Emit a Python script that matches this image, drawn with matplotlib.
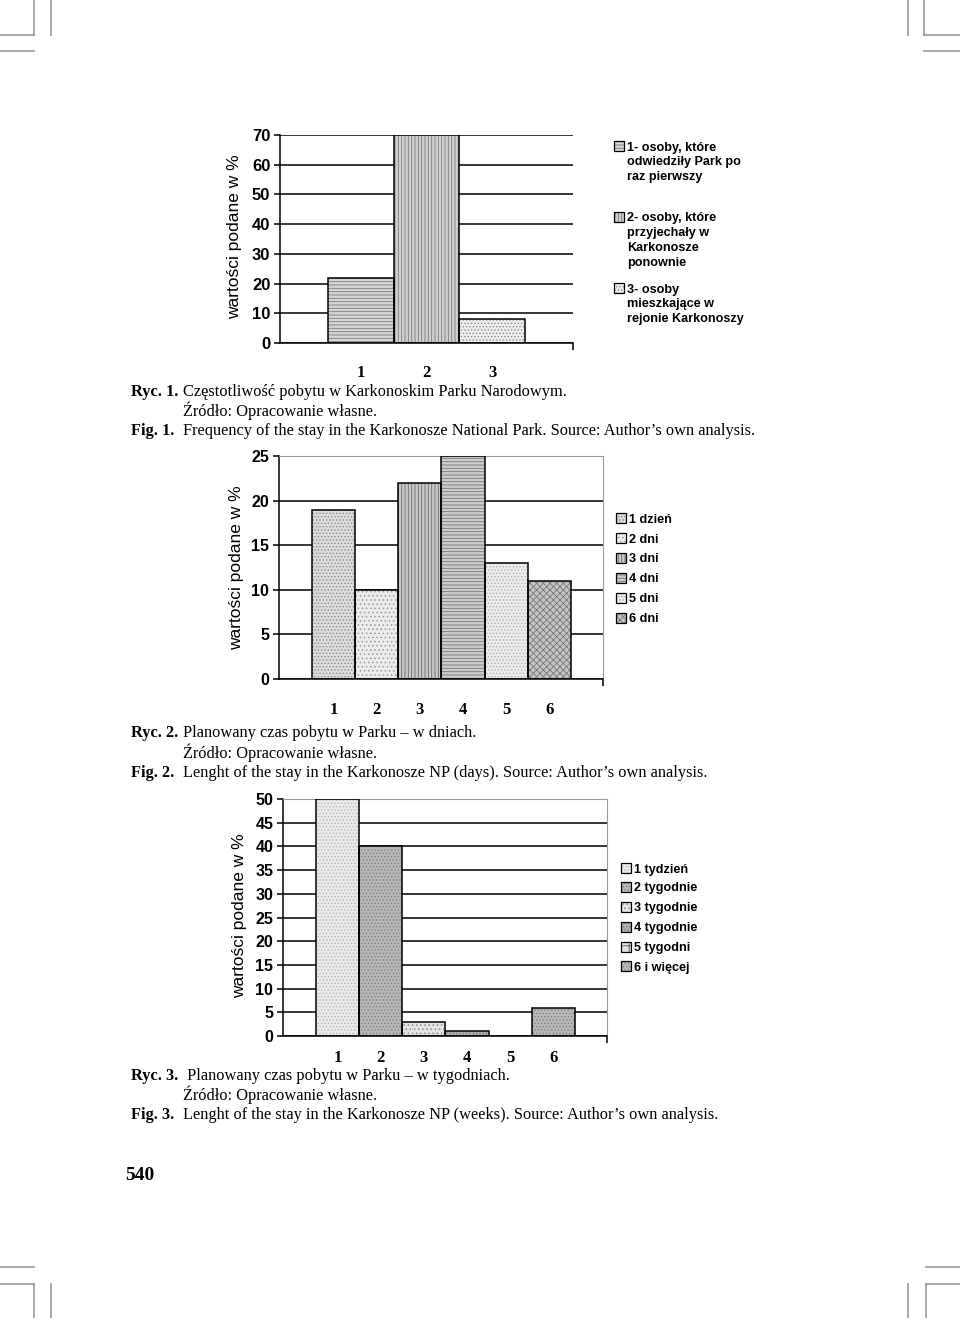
import numpy as np
import matplotlib
matplotlib.use('Agg')
import matplotlib.pyplot as plt
from matplotlib.patches import Rectangle
from matplotlib.lines import Line2D
from matplotlib.transforms import blended_transform_factory

# data
cat1 = ['1', '2', '3']
val1 = [22, 70, 8]
leg1 = ['1- osoby, które\nodwiedziły Park po\nraz pierwszy',
        '2- osoby, które\nprzyjechały w\nKarkonosze\nponownie',
        '3- osoby\nmieszkające w\nrejonie Karkonoszy']

cat2 = ['1', '2', '3', '4', '5', '6']
val2 = [19, 10, 22, 25, 13, 11]
leg2 = ['1 dzień', '2 dni', '3 dni', '4 dni', '5 dni', '6 dni']

cat3 = ['1', '2', '3', '4', '5', '6']
val3 = [50, 40, 3, 1, 0, 6]
leg3 = ['1 tydzień', '2 tygodnie', '3 tygodnie', '4 tygodnie', '5 tygodni', '6 i więcej']

W, H = 960, 1318
plt.rcParams['hatch.linewidth'] = 0.6
fig = plt.figure(figsize=(W / 100, H / 100), dpi=100)

def fx(x):
    return x / W

def fy(y):
    return 1 - y / H

SANS = 'Liberation Sans'
SERIF = 'Liberation Serif'

# fill styles (face, hatch colour, hatch)
sty1 = [('#d6d6d6', '#7a7a7a', '-----'), ('#d0d0d0', '#7a7a7a', '|||||'), ('#eeeeee', '#8a8a8a', '.....')]
sty2 = [('#dcdcdc', '#8a8a8a', '.....'), ('#ececec', '#9a9a9a', '....'), ('#c8c8c8', '#6a6a6a', '|||||'),
        ('#cccccc', '#777777', '-----'), ('#ececec', '#b0b0b0', '.....'), ('#c4c4c4', '#777777', 'xxxxx')]
sty3 = [('#ebebeb', '#b5b5b5', '.....'), ('#b8b8b8', '#808080', '.....'), ('#e4e4e4', '#8a8a8a', '....'),
        ('#b0b0b0', '#777777', '.....'), ('#e0e0e0', '#555555', '++'), ('#b8b8b8', '#808080', '.....')]


def draw_chart(rect, cats, vals, styles, ymax, ystep, framed, xlab_y, tick_fs):
    ax = fig.add_axes(rect)
    x = np.arange(len(cats))
    for xi, v, (fc, hc, h) in zip(x, vals, styles):
        if v <= 0:
            continue
        ax.bar(xi, v, width=1.0, color=fc, edgecolor=hc, hatch=h, linewidth=0, zorder=2)
        ax.bar(xi, v, width=1.0, fill=False, edgecolor='black', linewidth=1.1, zorder=3)
    ax.set_ylim(0, ymax)
    ax.set_yticks(np.arange(0, ymax + 0.1, ystep))
    ax.yaxis.grid(True, color='black', linewidth=1.1, zorder=0)
    ax.set_axisbelow(True)
    ax.tick_params(axis='x', labelbottom=False, length=5, width=1.1, direction='out')
    ax.tick_params(axis='y', length=4, width=1.1, pad=3, labelsize=tick_fs)
    for lbl in ax.get_yticklabels():
        lbl.set_fontfamily(SANS)
        lbl.set_fontweight('bold')
    ax.spines['left'].set_linewidth(1.1)
    ax.spines['bottom'].set_linewidth(1.1)
    if framed:
        ax.spines['top'].set_color('#9a9a9a')
        ax.spines['right'].set_color('#9a9a9a')
    else:
        ax.spines['top'].set_visible(False)
        ax.spines['right'].set_visible(False)
    tr = blended_transform_factory(ax.transData, fig.transFigure)
    for xi, c in zip(x, cats):
        ax.text(xi, fy(xlab_y), c, transform=tr, ha='center', va='center',
                fontsize=12, fontweight='bold', family=SERIF)
    return ax


ax1 = draw_chart([fx(280), fy(343), fx(573 - 280), (343 - 135) / H], cat1, val1, sty1, 70, 10, False, 373, 12)
ax1.set_xlim(-1.23, 3.23)
ax1.set_xticks([3.23])
ax2 = draw_chart([fx(279), fy(679), fx(603 - 279), (679 - 456) / H], cat2, val2, sty2, 25, 5, True, 710, 11.5)
ax2.set_xlim(-1.26, 6.24)
ax2.set_xticks([6.24])
ax3 = draw_chart([fx(283), fy(1036), fx(607 - 283), (1036 - 799) / H], cat3, val3, sty3, 50, 5, True, 1058, 11.5)
ax3.set_xlim(-1.26, 6.24)
ax3.set_xticks([6.24])

# y labels
for xx, yy in [(235, 237), (237, 568), (240, 916)]:
    fig.text(fx(xx), fy(yy), 'wartości podane w %', rotation=90, ha='center', va='center',
             fontsize=12.5, family=SANS)


# legends
def legend(labels, styles, sq_x, txt_x, ys, spacing=1.32):
    for lab, (fc, hc, h), yy in zip(labels, styles, ys):
        s = 10
        fig.patches.append(Rectangle((fx(sq_x - s / 2), fy(yy + s / 2)), s / W, s / H,
                                     transform=fig.transFigure, facecolor=fc, edgecolor=hc,
                                     hatch=h, linewidth=0))
        fig.patches.append(Rectangle((fx(sq_x - s / 2), fy(yy + s / 2)), s / W, s / H,
                                     transform=fig.transFigure, fill=False, edgecolor='black',
                                     linewidth=0.9))
        fig.text(fx(txt_x), fy(yy - 4.5), lab, ha='left', va='top', fontsize=9.1,
                 fontweight='bold', family=SANS, linespacing=spacing)


legend(leg1, sty1, 619, 627, [146, 217, 288])
legend(leg2, sty2, 621, 629, [518, 538, 558, 578, 598, 618])
legend(leg3, sty3, 626, 634, [868, 887, 907, 927, 947, 966])

# captions
caps = [
    (392, 'Ryc. 1.', 'Częstotliwość pobytu w Karkonoskim Parku Narodowym.'),
    (411, '', 'Źródło: Opracowanie własne.'),
    (431, 'Fig. 1.', 'Frequency of the stay in the Karkonosze National Park. Source: Author’s own analysis.'),
    (733, 'Ryc. 2.', 'Planowany czas pobytu w Parku – w dniach.'),
    (753, '', 'Źródło: Opracowanie własne.'),
    (773, 'Fig. 2.', 'Lenght of the stay in the Karkonosze NP (days). Source: Author’s own analysis.'),
    (1076, 'Ryc. 3.', ' Planowany czas pobytu w Parku – w tygodniach.'),
    (1095, '', 'Źródło: Opracowanie własne.'),
    (1115, 'Fig. 3.', 'Lenght of the stay in the Karkonosze NP (weeks). Source: Author’s own analysis.'),
]
for yy, bold, rest in caps:
    if bold:
        fig.text(fx(131), fy(yy), bold, ha='left', va='center', fontsize=11.8,
                 fontweight='bold', family=SERIF)
    fig.text(fx(183), fy(yy), rest, ha='left', va='center', fontsize=11.8, family=SERIF)

fig.text(fx(125), fy(1175), '540', ha='left', va='center', fontsize=14,
         fontweight='bold', family=SERIF)

# crop marks
cm = dict(color='#9a9a9a', linewidth=1.2, transform=fig.transFigure)
marks = [
    ((34, 34), (0, 35)), ((0, 34), (35, 35)), ((0, 34), (51, 51)), ((51, 51), (0, 35)),
    ((908, 908), (0, 35)), ((924, 924), (0, 35)), ((924, 960), (35, 35)), ((924, 960), (51, 51)),
    ((0, 34), (1267, 1267)), ((0, 34), (1284, 1284)), ((34, 34), (1284, 1318)), ((51, 51), (1284, 1318)),
    ((926, 960), (1267, 1267)), ((926, 960), (1284, 1284)), ((926, 926), (1284, 1318)), ((908, 908), (1284, 1318)),
]
for xs, ys in marks:
    fig.lines.append(Line2D([fx(v) for v in xs], [fy(v) for v in ys], **cm))

fig.savefig('out.png', dpi=100, facecolor='white')
